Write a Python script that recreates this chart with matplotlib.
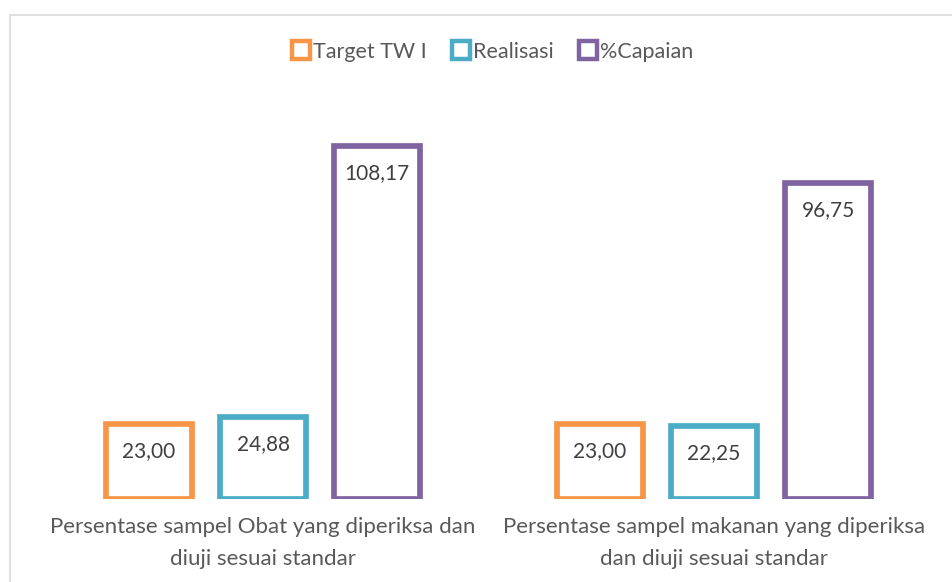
import matplotlib
matplotlib.use("Agg")
import matplotlib.pyplot as plt
from matplotlib.lines import Line2D
from matplotlib.patches import Rectangle

categories = ["Persentase sampel Obat yang diperiksa dan\ndiuji sesuai standar",
              "Persentase sampel makanan yang diperiksa\ndan diuji sesuai standar"]
series_names = ["Target TW I", "Realisasi", "%Capaian"]
target = [23.00, 23.00]
realisasi = [24.88, 22.25]
capaian = [108.17, 96.75]
colors = ["#F79646", "#4BACC6", "#8064A2"]

plt.rcParams['font.family'] = ['Lato', 'DejaVu Sans']

W, H = 952, 582
fig = plt.figure(figsize=(W / 100, H / 100), dpi=100)
fig.patch.set_facecolor("white")

ax = fig.add_axes([37.5 / W, 83.5 / H, 902 / W, 391 / H])
ax.set_xlim(-0.5, 1.5)
ax.set_ylim(0, 120)

offsets = [-0.2528, 0.0, 0.2528]
width = 0.19
data = [target, realisasi, capaian]
for s, (vals, col, off) in enumerate(zip(data, colors, offsets)):
    xs = [i + off for i in range(len(categories))]
    bars = ax.bar(xs, vals, width=width, facecolor="white", edgecolor=col,
                  linewidth=4.1, zorder=3)
    for b, v in zip(bars, vals):
        ax.annotate(f"{v:.2f}".replace(".", ","),
                    xy=(b.get_x() + b.get_width() / 2, b.get_height()),
                    xytext=(0, -19.5), textcoords="offset points",
                    ha="center", va="center", fontsize=15, color="#404040",
                    zorder=4)

ax.set_xticks(range(len(categories)))
ax.set_xticklabels(categories, fontsize=16, color="#595959", linespacing=1.8)
ax.tick_params(axis="x", length=0, pad=13)
ax.set_yticks([])
for sp in ax.spines.values():
    sp.set_visible(False)
ax.patch.set_visible(False)

handles = [Line2D([], [], linestyle="none", marker="s", markersize=12.5,
                  markerfacecolor="white", markeredgecolor=c, markeredgewidth=3.2)
           for c in colors]
fig.legend(handles, series_names, loc="center", bbox_to_anchor=(493 / W, 1 - 52 / H),
           ncol=3, frameon=False, fontsize=15.5, labelcolor="#595959",
           handlelength=0.8, handletextpad=0.15, columnspacing=1.2)

fig.add_artist(Rectangle((9.5 / W, -0.1), 1.1, (H - 15) / H + 0.1,
                         transform=fig.transFigure, fill=False,
                         edgecolor="#D9D9D9", linewidth=1.2))

fig.savefig("out.png", dpi=100, facecolor="white")
